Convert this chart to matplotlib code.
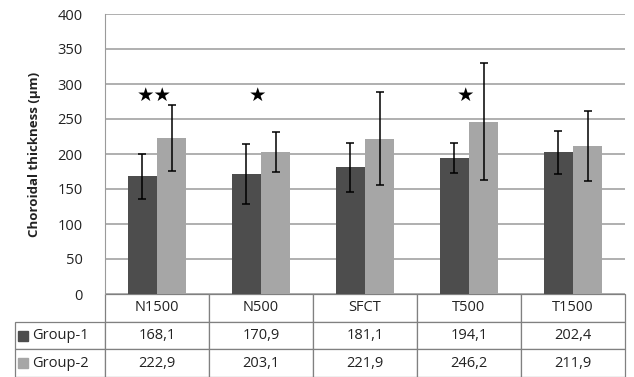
import numpy as np
import matplotlib.pyplot as plt
from matplotlib.patches import Rectangle

# Datos
categorias = ['N1500', 'N500', 'SFCT', 'T500', 'T1500']
grupo1 = [168.1, 170.9, 181.1, 194.1, 202.4]
grupo2 = [222.9, 203.1, 221.9, 246.2, 211.9]
sd1 = [32, 43, 35, 21, 31]
sd2 = [47, 29, 66, 84, 50]
estrellas = ['★★', '★', '', '★', '']
etiquetas_grupo = ['Group-1', 'Group-2']

col1 = '#4d4d4d'
col2 = '#a6a6a6'

plt.rcParams['font.family'] = ['Open Sans', 'DejaVu Sans']

fig = plt.figure(figsize=(6.34, 3.77), dpi=100)
ax = fig.add_axes([105 / 634, 1 - 294 / 377, 520 / 634, 280 / 377])

x = np.arange(len(categorias))
w = 0.28
ax.bar(x - w / 2, grupo1, w, color=col1, zorder=3)
ax.bar(x + w / 2, grupo2, w, color=col2, zorder=3)
ax.errorbar(x - w / 2, grupo1, yerr=sd1, fmt='none', ecolor='black',
            elinewidth=1.1, capsize=3, capthick=1.1, zorder=4)
ax.errorbar(x + w / 2, grupo2, yerr=sd2, fmt='none', ecolor='black',
            elinewidth=1.1, capsize=3, capthick=1.1, zorder=4)

for i, s in enumerate(estrellas):
    if s:
        ax.text(x[i] - 0.03, 283, s, ha='center', va='center', fontsize=14,
                family=['DejaVu Sans'], zorder=5)

ax.set_xlim(-0.5, len(categorias) - 0.5)
ax.set_ylim(0, 400)
ax.set_yticks(np.arange(0, 401, 50))
ax.yaxis.grid(True, color='#9a9a9a', linewidth=1.1, zorder=0)
ax.set_xticks([])
ax.tick_params(axis='y', length=0, labelsize=10.5, labelcolor='#222222', pad=16)
for sp in ['top', 'right', 'bottom']:
    ax.spines[sp].set_visible(False)
ax.spines['left'].set_color('#9a9a9a')
ax.set_ylabel('Choroidal thickness (µm)', fontsize=9.5, fontweight='bold',
              color='#222222', labelpad=12)

# Tabla de datos
filas = [[''] + categorias,
         [etiquetas_grupo[0]] + [f'{v:.1f}'.replace('.', ',') for v in grupo1],
         [etiquetas_grupo[1]] + [f'{v:.1f}'.replace('.', ',') for v in grupo2]]
x0 = (15 - 105) / 520
tabla = ax.table(cellText=filas, cellLoc='center',
                 colWidths=[90] + [104] * 5,
                 bbox=[x0, -83 / 280, 610 / 520, 83 / 280])
tabla.auto_set_font_size(False)
tabla.set_fontsize(10.5)
for (r, c), cell in tabla.get_celld().items():
    cell.set_edgecolor('#808080')
    cell.set_linewidth(0.9)
    cell.get_text().set_color('#222222')
    if r == 0 and c == 0:
        cell.visible_edges = ''
    if c == 0 and r > 0:
        cell._loc = 'left'
        cell.PAD = 0.17

# Cuadritos de leyenda
for i, col in enumerate([col1, col2]):
    yc = -83 / 280 + (83 / 280) * (1 - (1.5 + i) / 3)
    ax.add_patch(Rectangle((x0 + 3 / 520, yc - 5 / 280), 10 / 520, 10 / 280,
                           transform=ax.transAxes, color=col, clip_on=False, zorder=6))

fig.savefig('out.png', dpi=100)
